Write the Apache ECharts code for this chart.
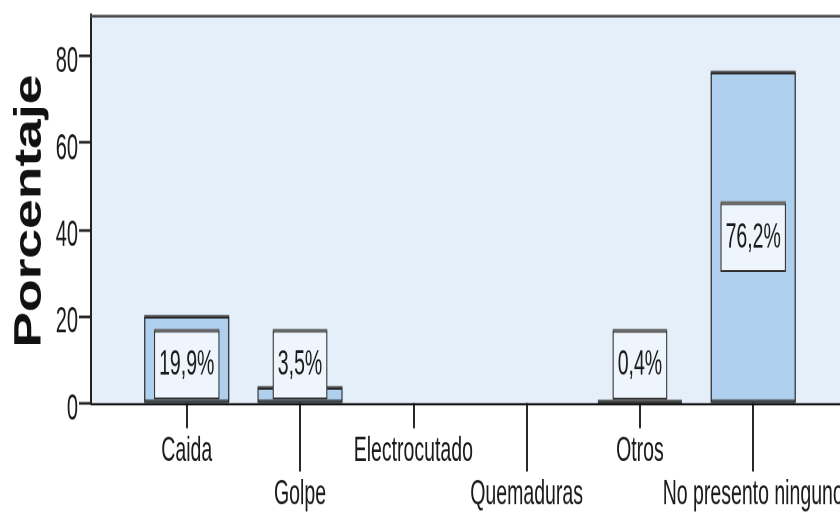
<!DOCTYPE html>
<html>
<head>
<meta charset="utf-8">
<script src="https://cdn.jsdelivr.net/npm/echarts@6/dist/echarts.min.js"></script>
<style>
  html, body { margin: 0; padding: 0; background: #ffffff; width: 840px; height: 515px; overflow: hidden; }
  #frame { position: relative; width: 840px; height: 515px; overflow: hidden; }
  /* The chart is laid out in a short box and stretched vertically, giving the tall, narrow lettering */
  #chart { position: absolute; left: 0; top: 0; width: 840px; height: 286px; transform: scaleY(1.8007); transform-origin: 0 0; }
</style>
</head>
<body>
<div id="frame"><div id="chart"></div></div>
<script>
// Tipo de accidente (porcentaje de casos)
const categories = ['Caida', 'Golpe', 'Electrocutado', 'Quemaduras', 'Otros', 'No presento ninguno'];
const percentages = [19.9, 3.5, 0, 0, 0.4, 76.2];
const yTicks = [0, 20, 40, 60, 80];
const yTitle = 'Porcentaje';

const FONT = '"Liberation Sans", Arial, Helvetica, sans-serif';
const upperRow = categories.map((_, i) => i).filter(i => i % 2 === 0);
const lowerRow = categories.map((_, i) => i).filter(i => i % 2 === 1);

const fmtPct = v => v.toFixed(1).replace('.', ',') + '%';

const barStyle = {
  color: '#aecfee',
  borderColor: '#222222',
  borderWidth: 1,
  shadowColor: '#5a5a5a',
  shadowOffsetY: -1,
  shadowBlur: 0
};

const labelBox = {
  show: true,
  formatter: p => fmtPct(p.value[1]),
  fontFamily: FONT,
  fontSize: 19.5,
  color: '#1a1a1a',
  backgroundColor: '#eef5fd',
  borderColor: '#2e2e2e',
  borderWidth: 1,
  padding: [8, 4, 8, 4],
  shadowColor: '#6a6a6a',
  shadowOffsetY: -1.2,
  shadowBlur: 0
};

// empty categories get no outline; short bars keep their value box on the baseline
const barData = percentages.map((v, i) => ({
  value: [i, v],
  itemStyle: v > 0 ? barStyle : { color: 'transparent', borderWidth: 0, shadowColor: 'transparent' },
  label: v > 0
    ? Object.assign({}, labelBox, v < 30 ? { position: 'insideBottom', distance: 3 } : { position: 'inside' })
    : { show: false }
}));

// one category step spans ~113 px of the plot; the frame runs past the right edge
const xSpan = { min: -0.845, max: categories.length - 1 + 0.766 };

const xAxisBase = {
  type: 'value',
  gridIndex: 0,
  position: 'bottom',
  min: xSpan.min,
  max: xSpan.max,
  splitLine: { show: false },
  axisLabel: {
    fontFamily: FONT,
    fontSize: 19.5,
    color: '#1a1a1a',
    formatter: v => categories[Math.round(v)]
  }
};

const option = {
  animation: false,
  backgroundColor: '#ffffff',
  grid: {
    left: 91,
    top: 8.3,
    right: 0,
    height: 215.5,
    outerBoundsMode: 'none',
    containLabel: false,
    show: true,
    backgroundColor: '#e4effa',
    borderWidth: 0
  },
  xAxis: [
    Object.assign({}, xAxisBase, {
      axisLine: { show: true, onZero: false, lineStyle: { color: '#111111', width: 1.2 } },
      axisTick: { show: true, customValues: upperRow, length: 14, lineStyle: { color: '#111111', width: 1.8 } },
      axisLabel: Object.assign({}, xAxisBase.axisLabel, { customValues: upperRow, margin: 17 })
    }),
    Object.assign({}, xAxisBase, {
      axisLine: { show: false, onZero: false },
      axisTick: { show: true, customValues: lowerRow, length: 38, lineStyle: { color: '#111111', width: 1.8 } },
      axisLabel: Object.assign({}, xAxisBase.axisLabel, { customValues: lowerRow, margin: 41 })
    }),
    // top edge of the plot frame
    {
      type: 'value',
      gridIndex: 0,
      position: 'top',
      min: xSpan.min,
      max: xSpan.max,
      splitLine: { show: false },
      axisLine: { show: true, onZero: false, lineStyle: { color: '#4a4a4a', width: 1.6 } },
      axisTick: { show: false },
      axisLabel: { show: false }
    }
  ],
  yAxis: {
    type: 'value',
    min: 0,
    max: 89.45,
    position: 'left',
    splitLine: { show: false },
    axisLine: { show: true, onZero: false, lineStyle: { color: '#222222', width: 2 } },
    axisTick: { show: true, customValues: yTicks, length: 12, lineStyle: { color: '#222222', width: 1.5 } },
    axisLabel: {
      customValues: yTicks,
      margin: 13,
      formatter: v => '{gap|}\n{num|' + v + '}',
      rich: {
        gap: { lineHeight: 7, fontSize: 1 },
        num: { fontFamily: FONT, fontSize: 20, lineHeight: 20, color: '#1a1a1a' }
      }
    }
  },
  graphic: [{
    type: 'text',
    x: 30,
    y: 117.2,
    rotation: Math.PI / 2,
    scaleX: 0.78,
    style: {
      text: yTitle,
      font: 'bold 38px ' + FONT,
      fill: '#111111',
      align: 'center',
      verticalAlign: 'middle'
    }
  }],
  series: [{
    type: 'bar',
    xAxisIndex: 0,
    barWidth: 85,
    data: barData,
    itemStyle: barStyle
  }]
};

const chart = echarts.init(document.getElementById('chart'), null, { renderer: 'canvas', devicePixelRatio: 2 });
chart.setOption(option);
</script>
</body>
</html>
